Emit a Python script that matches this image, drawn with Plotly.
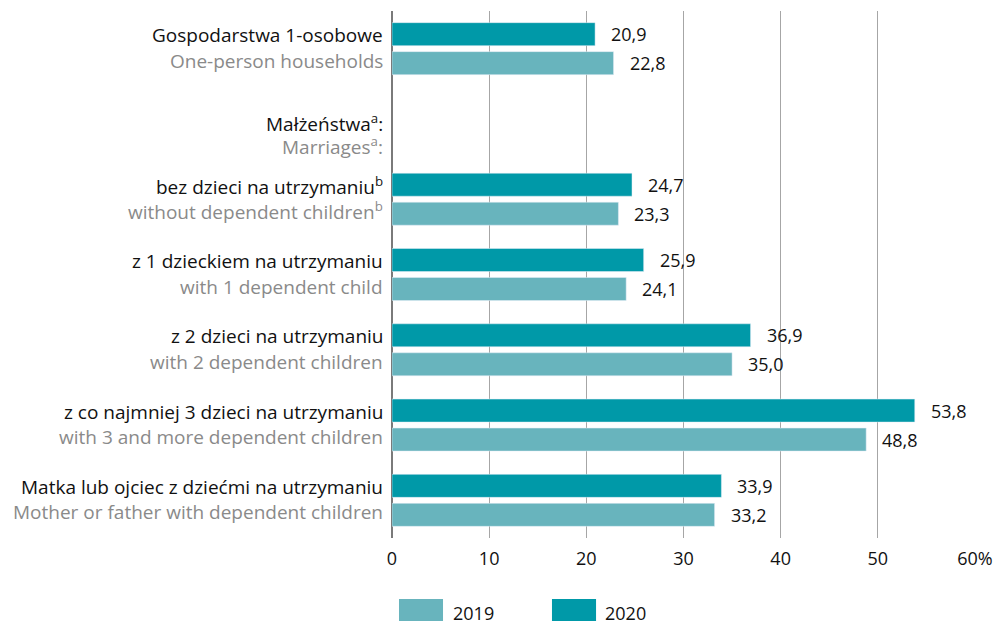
import plotly.graph_objects as go

labels_pl = ["Gospodarstwa 1-osobowe", "Małżeństwa<sup>a</sup>:", "bez dzieci na utrzymaniu<sup>b</sup>",
             "z 1 dzieckiem na utrzymaniu", "z 2 dzieci na utrzymaniu",
             "z co najmniej 3 dzieci na utrzymaniu", "Matka lub ojciec z dziećmi na utrzymaniu"]
labels_en = ["One-person households", "Marriages<sup>a</sup>:", "without dependent children<sup>b</sup>",
             "with 1 dependent child", "with 2 dependent children",
             "with 3 and more dependent children", "Mother or father with dependent children"]
cats = ["c%d" % i for i in range(len(labels_pl))]
v2019 = [22.8, None, 23.3, 24.1, 35.0, 48.8, 33.2]
v2020 = [20.9, None, 24.7, 25.9, 36.9, 53.8, 33.9]
xticks = [0, 10, 20, 30, 40, 50, 60]
xticktext = ["0", "10", "20", "30", "40", "50", "60%"]

C2019 = "#68b4bd"
C2020 = "#0099a8"
FONT = "Open Sans"
FS_LAB = 19
FS = 18

fig = go.Figure()
fig.add_trace(go.Bar(y=cats, x=v2020, orientation="h", marker_color=C2020, name="2020"))
fig.add_trace(go.Bar(y=cats, x=v2019, orientation="h", marker_color=C2019, name="2019"))

ann = []
def fmt(v):
    return ("%.1f" % v).replace(".", ",")
for c, a, b in zip(cats, v2020, v2019):
    if a is not None:
        ann.append(dict(x=a, y=c, xref="x", yref="y", text=fmt(a), showarrow=False,
                        xanchor="left", xshift=14, yshift=14.5, font=dict(color="#111", size=FS, family=FONT)))
    if b is not None:
        ann.append(dict(x=b, y=c, xref="x", yref="y", text=fmt(b), showarrow=False,
                        xanchor="left", xshift=14, yshift=-14.5, font=dict(color="#111", size=FS, family=FONT)))
for i, (c, pl, en) in enumerate(zip(cats, labels_pl, labels_en)):
    header = v2019[i] is None
    ys_pl, ys_en = (1, -22) if header else (13.5, -12)
    ann.append(dict(x=0, y=c, xref="paper", yref="y", text=pl, showarrow=False, xanchor="right",
                    xshift=-7, yshift=ys_pl, font=dict(color="#111", size=FS_LAB, family=FONT)))
    ann.append(dict(x=0, y=c, xref="paper", yref="y", text=en, showarrow=False, xanchor="right",
                    xshift=-7, yshift=ys_en, font=dict(color="#8a8a8a", size=FS_LAB, family=FONT)))

# custom legend
shapes = []
for x0, x1, col, tx, lab in [(0.012, 0.0875, C2019, 0.101, "2019"), (0.2744, 0.35, C2020, 0.3616, "2020")]:
    shapes.append(dict(type="rect", xref="paper", yref="paper", x0=x0, x1=x1, y0=-0.18, y1=-0.1157,
                       fillcolor=col, line_width=0))
    ann.append(dict(x=tx, y=-0.142, xref="paper", yref="paper", text=lab, showarrow=False,
                    xanchor="left", yanchor="middle", font=dict(color="#111", size=FS, family=FONT)))

# page body has an 8px default margin; figure is sized/offset to compensate
fig.update_layout(
    width=1000, height=613,
    margin=dict(l=384, r=33, t=3, b=83),
    barmode="group", bargap=0.23, bargroupgap=0.207,
    plot_bgcolor="white", paper_bgcolor="white",
    showlegend=False,
    annotations=ann, shapes=shapes,
    font=dict(family=FONT, size=FS, color="#111"),
)
fig.update_xaxes(range=[0, 60], tickvals=xticks, ticktext=xticktext, showgrid=True,
                 gridcolor="#a6a6a6", gridwidth=1.2, zeroline=True, zerolinecolor="#7a7a7a",
                 zerolinewidth=1.5, showline=False, ticks="", ticklabelstandoff=8,
                 tickfont=dict(size=FS, color="#111", family=FONT))
fig.update_yaxes(categoryorder="array", categoryarray=cats, range=[6.5, -0.5],
                 showticklabels=False, showgrid=False, zeroline=False, ticks="")

fig.write_html("out.html")
